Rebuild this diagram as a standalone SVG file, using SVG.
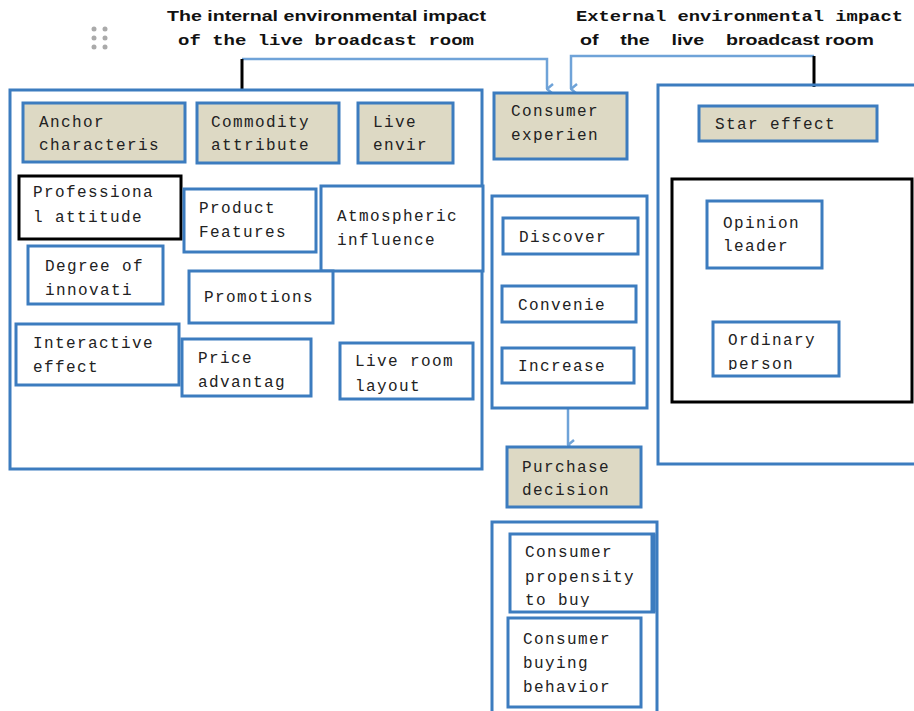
<svg xmlns="http://www.w3.org/2000/svg" width="914" height="711" viewBox="0 0 914 711">
<style>
.b{fill:#fff;stroke:#3C7CBF;stroke-width:3}
.h{fill:#DDD9C4;stroke:#3C7CBF;stroke-width:3}
.k{fill:#fff;stroke:#000;stroke-width:3}
.c{fill:none;stroke:#3C7CBF;stroke-width:3}
.t{font-family:"Liberation Mono",monospace;font-size:16px;letter-spacing:1.4px;fill:#222}
.ts{font-family:"Liberation Sans",Arial,sans-serif;font-size:15px;font-weight:bold;fill:#111}
.tm{font-family:"Liberation Mono",monospace;font-size:15px;font-weight:bold;fill:#111}
.a{fill:none;stroke:#6FA3D8;stroke-width:2.5}
.bl{stroke:#000;stroke-width:3}
</style>
<defs>
<marker id="ar" viewBox="0 0 12 12" refX="6" refY="11" markerWidth="12" markerHeight="12" markerUnits="userSpaceOnUse" orient="auto-start-reverse">
<polyline points="1,5 6,11 11,5" fill="none" stroke="#6FA3D8" stroke-width="2.5"/>
</marker>
<clipPath id="cp1"><rect x="713" y="322" width="126" height="48"/></clipPath>
<clipPath id="cp2"><rect x="510" y="534" width="144" height="73"/></clipPath>
</defs>

<g id="titles">
<g fill="#aaa"><circle cx="94" cy="29" r="2.5"/><circle cx="105" cy="29" r="2.5"/><circle cx="94" cy="38" r="2.5"/><circle cx="105" cy="38" r="2.5"/><circle cx="94" cy="47" r="2.5"/><circle cx="105" cy="47" r="2.5"/></g>
<text class="ts" x="167" y="21" textLength="319" lengthAdjust="spacingAndGlyphs">The internal environmental impact</text>
<text class="tm" x="178" y="45" textLength="296" lengthAdjust="spacingAndGlyphs">of the live broadcast room</text>
<text class="tm" x="576" y="21" textLength="327" lengthAdjust="spacingAndGlyphs">External environmental impact</text>
<text class="ts" x="580" y="45" textLength="294" lengthAdjust="spacingAndGlyphs" xml:space="preserve">of    the    live    broadcast room</text>
</g>

<g id="connectors">
<path class="a" d="M242,59 H547 V89" marker-end="url(#ar)"/>
<path class="a" d="M814,56 H571 V89" marker-end="url(#ar)"/>
<path class="a" d="M568,408 V445" marker-end="url(#ar)"/>
<line class="bl" x1="242" y1="59" x2="242" y2="90"/>
<line class="bl" x1="814" y1="56" x2="814" y2="87"/>
</g>

<g id="internal-container"><rect class="c" x="10" y="90" width="472" height="379"/></g>
<g id="anchor"><rect class="h" x="23" y="103" width="162" height="59"/><text class="t" x="39" y="127">Anchor</text><text class="t" x="39" y="150">characteris</text></g>
<g id="commodity"><rect class="h" x="197" y="103" width="142" height="60"/><text class="t" x="211" y="127">Commodity</text><text class="t" x="211" y="150">attribute</text></g>
<g id="live-envir"><rect class="h" x="358" y="103" width="95" height="60"/><text class="t" x="373" y="127">Live</text><text class="t" x="373" y="150">envir</text></g>
<g id="professional"><rect class="k" x="19" y="176" width="162" height="63"/><text class="t" x="33" y="197">Professiona</text><text class="t" x="33" y="222">l attitude</text></g>
<g id="product"><rect class="b" x="184" y="189" width="132" height="63"/><text class="t" x="199" y="213">Product</text><text class="t" x="199" y="237">Features</text></g>
<g id="atmospheric"><rect class="b" x="321" y="186" width="162" height="85"/><text class="t" x="337" y="221">Atmospheric</text><text class="t" x="337" y="245">influence</text></g>
<g id="degree"><rect class="b" x="28" y="246" width="135" height="58"/><text class="t" x="45" y="271">Degree of</text><text class="t" x="45" y="295">innovati</text></g>
<g id="promotions"><rect class="b" x="189" y="271" width="144" height="52"/><text class="t" x="204" y="302">Promotions</text></g>
<g id="interactive"><rect class="b" x="16" y="324" width="163" height="61"/><text class="t" x="33" y="348">Interactive</text><text class="t" x="33" y="372">effect</text></g>
<g id="price"><rect class="b" x="182" y="339" width="129" height="57"/><text class="t" x="198" y="363">Price</text><text class="t" x="198" y="387">advantag</text></g>
<g id="layout"><rect class="b" x="340" y="343" width="133" height="56"/><text class="t" x="355" y="366">Live room</text><text class="t" x="355" y="391">layout</text></g>

<g id="consumer-exp"><rect class="h" x="494" y="93" width="133" height="66"/><text class="t" x="511" y="116">Consumer</text><text class="t" x="511" y="140">experien</text></g>
<g id="exp-container"><rect class="c" x="492" y="196" width="155" height="212"/></g>
<g id="discover"><rect class="b" x="503" y="218" width="135" height="36"/><text class="t" x="519" y="242">Discover</text></g>
<g id="convenie"><rect class="b" x="502" y="286" width="134" height="36"/><text class="t" x="518" y="310">Convenie</text></g>
<g id="increase"><rect class="b" x="502" y="348" width="132" height="35"/><text class="t" x="518" y="371">Increase</text></g>
<g id="purchase"><rect class="h" x="507" y="447" width="134" height="60"/><text class="t" x="522" y="472">Purchase</text><text class="t" x="522" y="495">decision</text></g>
<g id="purchase-container"><path class="c" d="M492,713 V522 H657 V713"/></g>
<g id="propensity"><rect class="b" x="510" y="534" width="144" height="78"/><path d="M653,534 V612" stroke="#3C7CBF" stroke-width="5"/><g clip-path="url(#cp2)"><text class="t" x="525" y="557">Consumer</text><text class="t" x="525" y="582">propensity</text><text class="t" x="525" y="605">to buy</text></g></g>
<g id="behavior"><rect class="b" x="508" y="618" width="133" height="89"/><text class="t" x="523" y="644">Consumer</text><text class="t" x="523" y="668">buying</text><text class="t" x="523" y="692">behavior</text></g>

<g id="external-container"><path class="c" d="M916,85 H658 V464 H916"/></g>
<g id="star"><rect class="h" x="699" y="106" width="178" height="35"/><text class="t" x="715" y="129">Star effect</text></g>
<g id="people-box"><rect class="k" x="672" y="179" width="240" height="223"/></g>
<g id="opinion"><rect class="b" x="707" y="201" width="115" height="67"/><text class="t" x="723" y="228">Opinion</text><text class="t" x="723" y="251">leader</text></g>
<g id="ordinary"><rect class="b" x="713" y="322" width="126" height="54"/><g clip-path="url(#cp1)"><text class="t" x="728" y="345">Ordinary</text><text class="t" x="728" y="369">person</text></g></g>
</svg>
